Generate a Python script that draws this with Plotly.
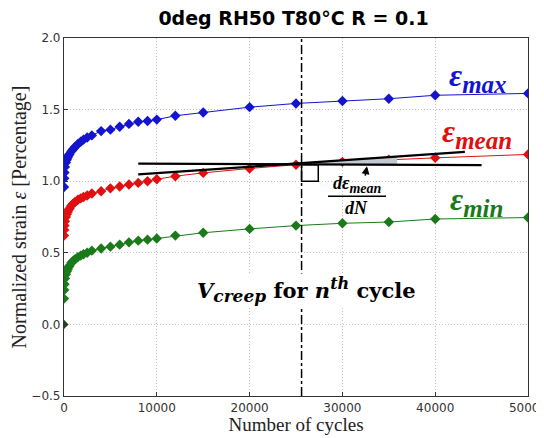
import plotly.graph_objects as go

# ---------------- data ----------------
cycles = [0, 25, 50, 100, 200, 300, 400, 500, 600, 800, 1000, 1200, 1500, 1800, 2100,
          2500, 3000, 4000, 5000, 6000, 7000, 8000, 9000, 10000, 12000, 15000, 20000,
          25000, 30000, 35000, 40000, 50000]
eps_max = [0.96, 1.02, 1.06, 1.10, 1.13, 1.15, 1.165, 1.18, 1.19, 1.21, 1.225, 1.24, 1.26,
           1.275, 1.29, 1.305, 1.32, 1.35, 1.36, 1.38, 1.40, 1.415, 1.42, 1.43, 1.457, 1.48,
           1.517, 1.543, 1.56, 1.576, 1.60, 1.613]
eps_mean = [0.62, 0.66, 0.69, 0.72, 0.75, 0.77, 0.785, 0.80, 0.81, 0.83, 0.845, 0.855, 0.87,
            0.88, 0.89, 0.90, 0.914, 0.93, 0.95, 0.963, 0.977, 0.988, 1.0, 1.014, 1.035, 1.058,
            1.089, 1.115, 1.135, 1.15, 1.163, 1.187]
eps_min = [0.18, 0.24, 0.28, 0.32, 0.35, 0.37, 0.385, 0.40, 0.41, 0.43, 0.445, 0.455, 0.47,
           0.48, 0.49, 0.50, 0.515, 0.53, 0.543, 0.557, 0.573, 0.585, 0.592, 0.60, 0.62, 0.64,
           0.667, 0.69, 0.706, 0.715, 0.736, 0.746]
origin_cycle = [0]
origin_strain = [0.0]

# tangent construction
creep_cycle = 25600
ref_line_x = [8000, 45000]
ref_line_y = [1.123, 1.112]
tangent_x = [8000, 43200]
tangent_y = [1.047, 1.205]
shade_x = [25600, 35900, 35900, 25600]
shade_y = [1.120, 1.170, 1.114, 1.118]
square_x = [25600, 27400]
square_y = [1.0, 1.115]

x_ticks = [0, 10000, 20000, 30000, 40000, 50000]
y_ticks = [-0.5, 0.0, 0.5, 1.0, 1.5, 2.0]

BLUE = "#1414cc"
RED = "#e01010"
GREEN = "#1a7a1a"
SERIF = "Liberation Serif"

fig = go.Figure()

for y, c in [(eps_max, BLUE), (eps_mean, RED), (eps_min, GREEN)]:
    fig.add_trace(go.Scatter(x=cycles, y=y, mode="lines+markers",
                             line=dict(color=c, width=1),
                             marker=dict(symbol="diamond", size=8, color=c,
                                         line=dict(width=0)),
                             showlegend=False))
fig.add_trace(go.Scatter(x=origin_cycle, y=origin_strain, mode="markers",
                         marker=dict(symbol="diamond", size=7, color="#224422"),
                         showlegend=False))

# shaded wedge
fig.add_trace(go.Scatter(x=shade_x, y=shade_y, mode="lines", fill="toself",
                         fillcolor="#c0c8d0", line=dict(width=0), showlegend=False))
# reference & tangent lines
fig.add_trace(go.Scatter(x=ref_line_x, y=ref_line_y, mode="lines",
                         line=dict(color="black", width=2.2), showlegend=False))
fig.add_trace(go.Scatter(x=tangent_x, y=tangent_y, mode="lines",
                         line=dict(color="black", width=2.2), showlegend=False))

# vertical dash-dot line
fig.add_shape(type="line", x0=creep_cycle, x1=creep_cycle, y0=0, y1=1,
              xref="x", yref="paper", line=dict(color="black", width=1.5, dash="dashdot"))
# right-angle square
fig.add_shape(type="rect", x0=square_x[0], x1=square_x[1], y0=square_y[0], y1=square_y[1],
              xref="x", yref="y", line=dict(color="black", width=1.5))

# fraction
fig.add_annotation(x=31570, y=0.975, xref="x", yref="y", showarrow=False,
                   text="<b><i>dε<sub><span style='font-size:14px'>mean</span></sub></i></b>",
                   font=dict(family=SERIF, size=18, color="black"))
fig.add_shape(type="line", x0=28450, x1=34700, y0=0.895, y1=0.895, xref="x", yref="y",
              line=dict(color="black", width=1.5))
fig.add_annotation(x=31570, y=0.81, xref="x", yref="y", showarrow=False,
                   text="<b><i>dN</i></b>",
                   font=dict(family=SERIF, size=18, color="black"))
fig.add_annotation(x=32650, y=1.105, ax=32430, ay=1.028, xref="x", yref="y",
                   axref="x", ayref="y", showarrow=True, arrowhead=2, arrowsize=1,
                   arrowwidth=1.6, arrowcolor="black", text="")

# series labels
SUB = "<sub><span style='font-size:25px'>%s</span></sub>"
fig.add_annotation(x=44600, y=1.725, xref="x", yref="y", showarrow=False,
                   text="<b><i>ε" + SUB % "max" + "</i></b>",
                   font=dict(family=SERIF, size=32, color=BLUE))
fig.add_annotation(x=44500, y=1.33, xref="x", yref="y", showarrow=False,
                   text="<b><i>ε" + SUB % "mean" + "</i></b>",
                   font=dict(family=SERIF, size=32, color=RED))
fig.add_annotation(x=44500, y=0.86, xref="x", yref="y", showarrow=False,
                   text="<b><i>ε" + SUB % "min" + "</i></b>",
                   font=dict(family=SERIF, size=32, color=GREEN))
fig.add_annotation(x=26100, y=0.24, xref="x", yref="y", showarrow=False,
                   bgcolor="white", borderpad=0,
                   text="<b><i>V<sub><span style='font-size:17px'>creep</span></sub></i> for "
                        "<i>n<sup><span style='font-size:16px'>th</span></sup></i> cycle</b>",
                   font=dict(family="DejaVu Serif", size=21, color="black"))

fig.update_layout(
    width=544, height=430,
    margin=dict(l=56, r=24, t=30, b=42, autoexpand=False),
    paper_bgcolor="white", plot_bgcolor="white",
    title=dict(text="<b>0deg RH50 T80°C R = 0.1</b>", x=0.525, xanchor="center",
               y=0.975, yanchor="middle", yref="container",
               font=dict(family="DejaVu Sans", size=19, color="black")),
    xaxis=dict(range=[0, 50000], tickvals=x_ticks, ticktext=[str(v) for v in x_ticks],
               showgrid=True, gridcolor="#c0c0c0", griddash="1px,2px", gridwidth=1,
               showline=True, linecolor="#333", linewidth=1.2, mirror=True,
               ticks="inside", ticklen=4, tickcolor="#333",
               tickfont=dict(family="DejaVu Sans", size=12, color="#333"),
               ticklabeloverflow="allow",
               zeroline=False, automargin=False,
               title=dict(text="Number of cycles", standoff=2,
                          font=dict(family=SERIF, size=19, color="#222"))),
    yaxis=dict(range=[-0.5, 2.0], tickvals=y_ticks,
               ticktext=["\u22120.5", "0.0", "0.5", "1.0", "1.5", "2.0"],
               showgrid=True, gridcolor="#c0c0c0", griddash="1px,2px", gridwidth=1,
               showline=True, linecolor="#333", linewidth=1.2, mirror=True,
               ticks="inside", ticklen=4, tickcolor="#333",
               tickfont=dict(family="DejaVu Sans", size=12, color="#333"),
               zeroline=False, automargin=False,
               title=dict(text="Normalized strain <i>ε</i> [Percentage]", standoff=2,
                          font=dict(family=SERIF, size=20, color="#222"))),
)

fig.write_html("out.html")
